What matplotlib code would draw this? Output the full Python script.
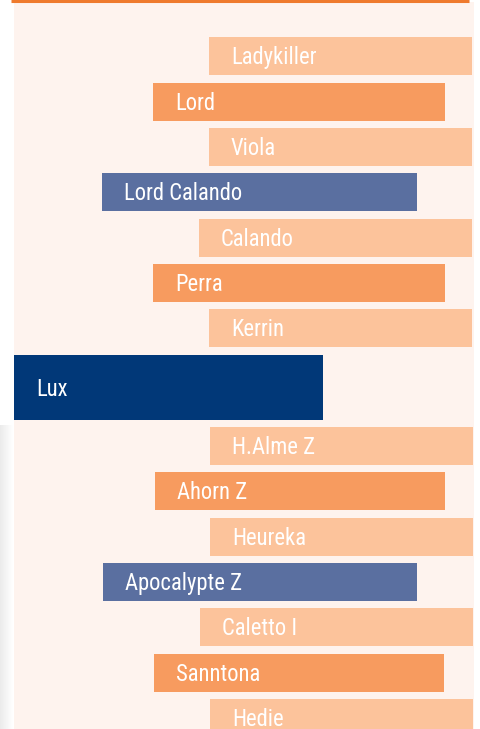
import matplotlib
matplotlib.use("Agg")
import matplotlib.pyplot as plt
import numpy as np
from matplotlib import font_manager

names = ["Ladykiller", "Lord", "Viola", "Lord Calando", "Calando", "Perra", "Kerrin",
         "Lux",
         "H.Alme Z", "Ahorn Z", "Heureka", "Apocalypte Z", "Caletto I", "Sanntona", "Hedie"]
# generation role: 0 = subject, 1 = parent, 2 = grandparent, 3 = great-grandparent
role = [3, 2, 3, 1, 3, 2, 3, 0, 3, 2, 3, 1, 3, 2, 3]
left = [209, 153, 209, 102, 199, 153, 209, 14, 210, 155, 210, 103, 200, 154, 210]
right = [472, 445, 472, 417, 472, 445, 472, 323, 473, 445, 473, 417, 473, 444, 473]
top = [37, 83, 128, 173, 219, 264, 309, 355, 427, 472, 518, 563, 608, 654, 699]
bottom = [75, 121, 166, 211, 257, 302, 347, 420, 465, 510, 556, 601, 646, 692, 737]

colors = {0: "#013878", 1: "#5a6fa0", 2: "#f79b5f", 3: "#fcc39b"}

avail = {f.name for f in font_manager.fontManager.ttflist}
fam = [f for f in ["Liberation Sans Narrow", "Roboto Condensed", "Roboto", "DejaVu Sans"] if f in avail]

W, H = 481, 729
fig = plt.figure(figsize=(W / 100, H / 100), dpi=100)
ax = fig.add_axes([0, 0, 1, 1])
ax.set_xlim(0, W)
ax.set_ylim(H, 0)
ax.axis("off")

# left shadow gradient
grad = np.linspace(0.92, 1.0, 50).reshape(1, -1)
ax.imshow(grad, extent=(0, 13, H, 425), cmap="gray", vmin=0, vmax=1, aspect="auto", zorder=0)

# panel background
ax.add_patch(plt.Rectangle((14, 2), 474 - 14, H - 2, color="#fef3ee", zorder=1, lw=0))
# top orange rule
ax.plot([11, 469], [1, 1], color="#ef7a2d", lw=2.2, solid_capstyle="butt", zorder=2)

for n, r, l, rt, t, b in zip(names, role, left, right, top, bottom):
    ax.barh((t + b) / 2, rt - l, left=l, height=b - t, color=colors[r], lw=0, zorder=3)
    ax.text(l + 22, (t + b) / 2 + 1.5, n, color="white", fontsize=16.3, family=fam,
            va="center", ha="left", zorder=4)

fig.savefig("out.png", dpi=100)
